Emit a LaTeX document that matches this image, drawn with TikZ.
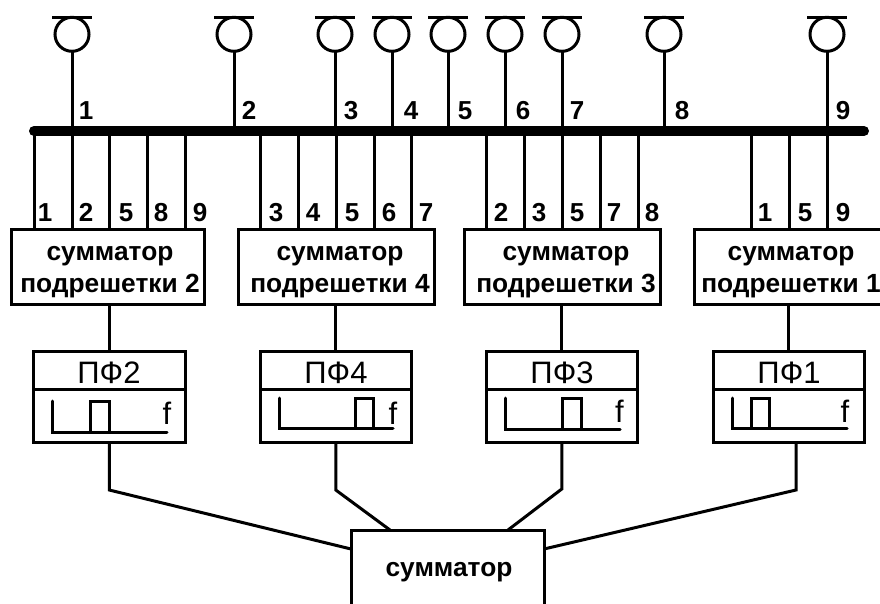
\documentclass[tikz,border=0pt]{standalone}
\usepackage{fontspec}
\setmainfont{Liberation Sans}
\tikzset{
  x=1pt,y=-1pt,
  wire/.style={line width=3pt,line join=miter,line cap=butt,black},
  bus/.style={line width=10pt,line cap=round,black},
  box/.style={draw=black,line width=3pt,inner sep=0pt,rectangle,align=center,font=\fontsize{26.3}{32}\bfseries\selectfont},
  num/.style={inner sep=0pt,anchor=base,font=\fontsize{26}{26}\bfseries\selectfont},
  pf/.style={inner sep=0pt,anchor=base,font=\fontsize{31}{31}\selectfont},
  ff/.style={inner sep=0pt,anchor=base,font=\fontsize{31}{31}\selectfont},
  pt/.style={inner sep=0pt,minimum size=0pt,outer sep=0pt},
}
\begin{document}
\begin{tikzpicture}
\useasboundingbox (0,0) rectangle (880,604);
% bus
\coordinate (busL) at (34,131);
\coordinate (busR) at (864,131);
\draw[bus] (busL) -- (busR);
% antennas
\foreach \n/\x in {1/72,2/234,3/335,4/392,5/448,6/505,7/562,8/664,9/827}{
  \coordinate (bt\n) at (\x,131);
  \coordinate (ab\n) at (\x,51);
  \coordinate (barL\n) at (\x-20,17.5);
  \coordinate (barR\n) at (\x+20,17.5);
  \node[pt,draw=black,line width=3pt,circle,minimum size=34pt] (ant\n) at (\x,34.3) {};
  \draw[wire] (barL\n) -- (barR\n);
  \draw[wire] (ab\n) -- (bt\n);
}
% top numbers
\foreach \n/\x in {1/86,2/249,3/351,4/411,5/465,6/523,7/577,8/682,9/843}{
  \node[num] (tn\n) at (\x,120) {\n};
}
% boxes
\node[box,pt,minimum width=193pt,minimum height=75pt,anchor=north west] (s2) at (11,229) {};
\node[box,pt,minimum width=196pt,minimum height=75pt,anchor=north west] (s4) at (238,229) {};
\node[box,pt,minimum width=196pt,minimum height=75pt,anchor=north west] (s3) at (464,229) {};
\coordinate (s1a) at (881,229);
\coordinate (s1b) at (694,229);
\coordinate (s1c) at (694,304);
\coordinate (s1d) at (881,304);
\draw[wire] (s1a) -- (s1b) -- (s1c) -- (s1d);
\node[box,draw=none,pt] (t2) at (110,272.5) {сумматор\\подрешетки 2};
\node[box,draw=none,pt] (t4) at (340,272.5) {сумматор\\подрешетки 4};
\node[box,draw=none,pt] (t3) at (566,272.5) {сумматор\\подрешетки 3};
\node[box,draw=none,pt] (t1) at (791,272.5) {сумматор\\подрешетки 1};
% feed lines
\foreach \x in {34,72,109,147,185,260,298,336,374,411,486,524,562,600,638,751,789,827}{
  \coordinate (fa\x) at (\x,131);
  \coordinate (fb\x) at (\x,229);
  \draw[wire] (fa\x) -- (fb\x);
}
\foreach \x/\l in {45/1,86/2,126/5,161/8,200/9,276/3,313/4,352/5,389/6,426/7,501/2,539/3,577/5,614/7,652/8,765/1,805/5,843/9}{
  \node[num] (ln\x) at (\x,222) {\l};
}
% filters
\foreach \name/\x in {p2/33.5,p4/260,p3/486,p1/713}{
  \node[box,pt,minimum width=151.5pt,minimum height=91pt,anchor=north west] (\name) at (\x,351) {};
  \coordinate (\name dl) at (\x,389);
  \coordinate (\name dr) at (\x+151.5,389);
  \draw[wire] (\name dl) -- (\name dr);
}
\node[pf] (pl2) at (109,383) {ПФ2};
\node[pf] (pl4) at (336,383) {ПФ4};
\node[pf] (pl3) at (562,383) {ПФ3};
\node[pf] (pl1) at (789,383) {ПФ1};
% plots
\newcommand{\plotf}[9]{%
  \draw[wire,line cap=round] (#2,#3) -- (#2,#4) -- (#5,#4);
  \draw[wire] (#6,#4) -- (#6,#3) -- (#7,#3) -- (#7,#4);
  \node[ff] (f#1) at (#8,#9) {f};
}
\plotf{2}{52.5}{401}{432}{167}{90}{109}{167}{424}
\plotf{4}{279}{398}{428.5}{393}{355}{373}{393}{424}
\plotf{3}{505.5}{398}{429}{620}{562}{581}{619.5}{422}
\plotf{1}{732}{398}{428.5}{847}{751}{769}{845}{422}
% summer
\coordinate (sTL) at (351,530);
\coordinate (sTR) at (544,530);
\coordinate (sBL) at (351,604);
\coordinate (sBR) at (544,604);
\draw[wire] (sBL) -- (sTL) -- (sTR) -- (sBR);
\node[box,draw=none,pt,anchor=base] (sum) at (449,576) {сумматор};
% links
\draw[wire] (p2.north |- s2.south) -- (p2.north);
\draw[wire] (p4.north |- s4.south) -- (p4.north);
\draw[wire] (p3.north |- s3.south) -- (p3.north);
\draw[wire] (p1.north |- s1c) -- (p1.north);
\coordinate (e2) at (109.25,490);
\coordinate (e4) at (335.75,490);
\coordinate (e3) at (561.75,489);
\coordinate (e1t) at (796,442);
\coordinate (e1) at (796,490);
\coordinate (j2) at (351,549);
\coordinate (j4) at (390,530);
\coordinate (j3) at (508,530);
\coordinate (j1) at (544,549);
\draw[wire] (p2.south) -- (e2) -- (j2);
\draw[wire] (p4.south) -- (e4) -- (j4);
\draw[wire] (p3.south) -- (e3) -- (j3);
\draw[wire] (e1t) -- (e1) -- (j1);
\end{tikzpicture}
\end{document}
